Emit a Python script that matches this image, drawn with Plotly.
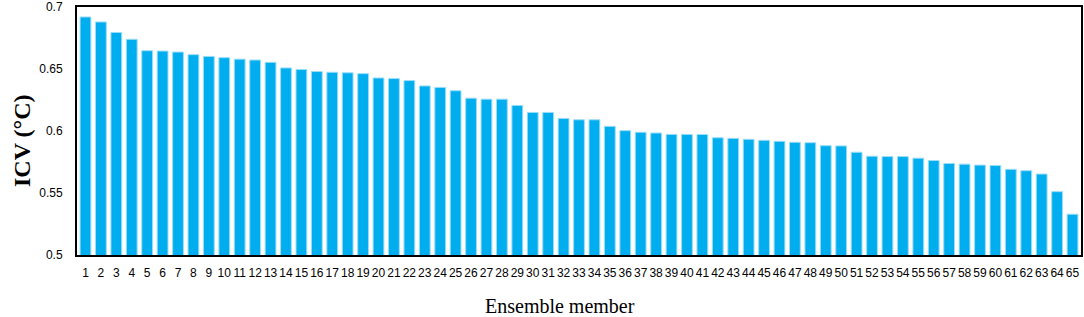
import plotly.graph_objects as go

members = list(range(1, 66))
icv = [0.692, 0.688, 0.6795, 0.674, 0.6648, 0.6645, 0.6637, 0.6616, 0.6602, 0.6592,
       0.658, 0.6573, 0.6554, 0.6509, 0.6496, 0.648, 0.6474, 0.647, 0.6463, 0.6428,
       0.6423, 0.6407, 0.6364, 0.6352, 0.6325, 0.6265, 0.6257, 0.6257, 0.6206, 0.615,
       0.615, 0.6102, 0.6091, 0.6091, 0.6038, 0.6003, 0.599, 0.5984, 0.5973, 0.5973,
       0.5972, 0.5946, 0.5941, 0.5933, 0.5925, 0.5917, 0.5909, 0.5906, 0.5882, 0.588,
       0.5829, 0.5797, 0.5794, 0.5794, 0.5781, 0.5762, 0.5738, 0.5733, 0.5725, 0.5722,
       0.5691, 0.568, 0.5653, 0.5511, 0.5329]
y_ticks = [0.5, 0.55, 0.6, 0.65, 0.7]
y_ticklabels = ["0.5", "0.55", "0.6", "0.65", "0.7"]

fig = go.Figure(go.Bar(
    x=members, y=icv,
    marker=dict(color="#00AEEF", line=dict(color="#9BDDF7", width=1)),
))

tick_font = dict(family="Liberation Sans, Arial, sans-serif", size=12, color="black")

fig.update_layout(
    width=1084, height=317,
    margin=dict(l=77, r=3, t=7, b=62, autoexpand=False),
    plot_bgcolor="white", paper_bgcolor="white",
    bargap=0.3,
    showlegend=False,
    xaxis=dict(
        range=[0.45, 65.55], tickmode="array", tickvals=members,
        ticktext=[str(m) for m in members], tickangle=0,
        showgrid=False, zeroline=False, showline=True, linecolor="black", linewidth=2,
        mirror=True, ticks="", tickfont=tick_font, ticklabelstandoff=6,
        ticklabeloverflow="allow",
    ),
    yaxis=dict(
        range=[0.5, 0.70005], tickmode="array", tickvals=y_ticks, ticktext=y_ticklabels,
        showgrid=False, zeroline=False, showline=True, linecolor="black", linewidth=2,
        mirror=True, ticks="", tickfont=tick_font, ticklabelstandoff=10,
        ticklabeloverflow="allow",
    ),
    annotations=[
        dict(text="<b>ICV (°C)</b>", xref="paper", yref="paper", x=-0.0547, y=0.46,
             textangle=-90, showarrow=False, xanchor="center", yanchor="middle",
             font=dict(family="Liberation Serif, Times New Roman, serif", size=24, color="black")),
        dict(text="Ensemble member", xref="paper", yref="paper", x=0.481, y=-0.206,
             showarrow=False, xanchor="center", yanchor="middle",
             font=dict(family="Liberation Serif, Times New Roman, serif", size=20, color="black")),
    ],
)

fig.write_html("out.html", config={"displayModeBar": False},
               post_script="document.body.style.margin='0';document.body.style.overflow='hidden';")
